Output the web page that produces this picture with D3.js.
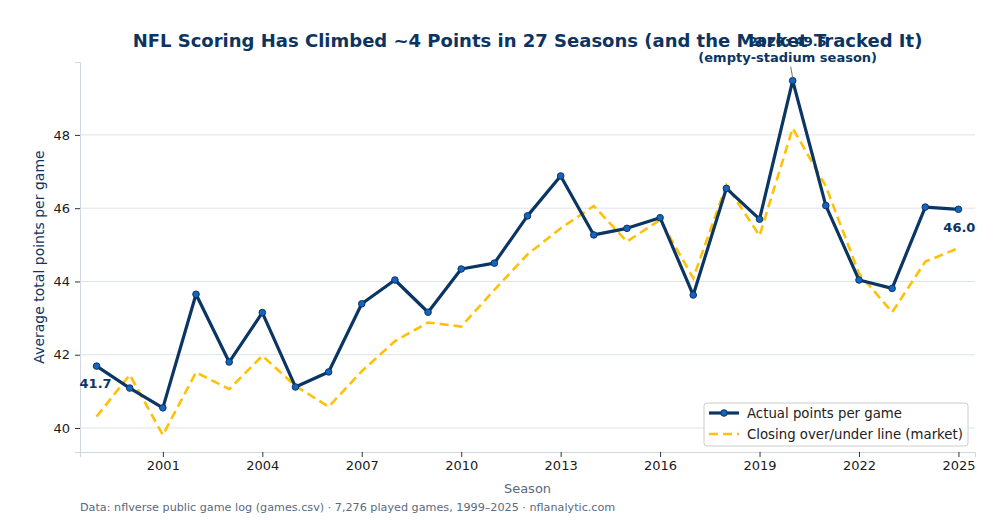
<!doctype html>
<html lang="en">
<head>
<meta charset="utf-8">
<script src="https://d3js.org/d3.v7.min.js"></script>
<style>
  body { margin: 0; background: #fff; }
  svg { display: block; font-family: "DejaVu Sans", sans-serif; }
</style>
<title>NFL scoring</title>
</head>
<body>
<script>
// seasons and values
var seasons = d3.range(1999, 2026);
var actualPts = [41.69, 41.09, 40.55, 43.65, 41.80, 43.15, 41.12, 41.53, 43.39, 44.04,
                 43.16, 44.34, 44.50, 45.79, 46.88, 45.27, 45.45, 45.74, 43.63, 46.54,
                 45.70, 49.48, 46.07, 44.04, 43.81, 46.03, 45.97];
var closingLine = [40.31, 41.45, 39.81, 41.52, 41.06, 41.97, 41.15, 40.58, 41.55, 42.37,
                   42.88, 42.77, 43.77, 44.74, 45.45, 46.06, 45.09, 45.68, 44.09, 46.63,
                   45.25, 48.18, 46.60, 44.22, 43.16, 44.54, 44.91];
var xTicks = [2001, 2004, 2007, 2010, 2013, 2016, 2019, 2022, 2025];
var yTicks = [40, 42, 44, 46, 48];

var W = 1000, H = 520;
var margin = {top: 62, right: 25, bottom: 68, left: 80},
    width = W - margin.left - margin.right,
    height = H - margin.top - margin.bottom;

var navy = "#0b3563", blue = "#1565c0", gold = "#ffc107";

var svg = d3.select("body").append("svg")
    .attr("width", W).attr("height", H);

var g = svg.append("g")
    .attr("transform", "translate(" + margin.left + "," + margin.top + ")");

var x = d3.scaleLinear().domain([1998.5, 2025.5]).range([0, width]);
var y = d3.scaleLinear().domain([39.345, 49.99]).range([height, 0]);

// grid
g.append("g").selectAll("line").data(yTicks).enter().append("line")
    .attr("x1", 0).attr("x2", width)
    .attr("y1", function(d) { return y(d); })
    .attr("y2", function(d) { return y(d); })
    .attr("stroke", "#dde3ec").attr("stroke-width", 1);

// axes
var xAxis = g.append("g")
    .attr("transform", "translate(0," + height + ")")
    .call(d3.axisBottom(x).tickValues(xTicks).tickFormat(d3.format("d")).tickSize(5).tickPadding(4));
var yAxis = g.append("g")
    .call(d3.axisLeft(y).tickValues(yTicks).tickSize(5).tickPadding(5));

[xAxis, yAxis].forEach(function(a) {
    a.select(".domain").attr("stroke", "#cfd7e3");
    a.selectAll(".tick line").attr("stroke", "#333");
    a.selectAll("text").attr("font-size", 13).attr("fill", "#1a1a1a")
        .attr("font-family", "DejaVu Sans");
});

// series
var lineFn = function(vals) {
    return d3.line()
        .x(function(d, i) { return x(seasons[i]); })
        .y(function(d) { return y(d); })(vals);
};

g.append("path")
    .attr("d", lineFn(closingLine))
    .attr("fill", "none").attr("stroke", gold)
    .attr("stroke-width", 2.6).attr("stroke-dasharray", "9,5");

g.append("path")
    .attr("d", lineFn(actualPts))
    .attr("fill", "none").attr("stroke", navy)
    .attr("stroke-width", 3.2).attr("stroke-linejoin", "round");

g.selectAll(".pt").data(actualPts).enter().append("circle")
    .attr("class", "pt")
    .attr("cx", function(d, i) { return x(seasons[i]); })
    .attr("cy", function(d) { return y(d); })
    .attr("r", 3.3)
    .attr("fill", blue).attr("stroke", navy).attr("stroke-width", 1);

// end labels
g.append("text")
    .attr("x", x(1999) - 17).attr("y", y(actualPts[0]) + 22)
    .attr("font-size", 13).attr("font-weight", "bold").attr("fill", navy)
    .text("41.7");
g.append("text")
    .attr("x", x(2025) + 17).attr("y", y(actualPts[26]) + 23)
    .attr("text-anchor", "end")
    .attr("font-size", 13).attr("font-weight", "bold").attr("fill", navy)
    .text("46.0");

// 2020 annotation (overlaps the title in the original too)
var ax = x(2020), ay = y(actualPts[21]);
g.append("line")
    .attr("x1", ax - 2).attr("y1", ay - 14).attr("x2", ax).attr("y2", ay - 3)
    .attr("stroke", "#777").attr("stroke-width", 1);

// title
svg.append("text")
    .attr("x", margin.left + width / 2).attr("y", 47)
    .attr("text-anchor", "middle")
    .attr("font-size", 18).attr("font-weight", "bold").attr("fill", "#0d3461")
    .text("NFL Scoring Has Climbed ~4 Points in 27 Seasons (and the Market Tracked It)");

g.append("text")
    .attr("x", ax - 5).attr("y", ay - 35)
    .attr("text-anchor", "middle")
    .attr("font-size", 13).attr("font-weight", "bold").attr("fill", navy)
    .text("2020: 49.5");
g.append("text")
    .attr("x", ax - 5).attr("y", ay - 19)
    .attr("text-anchor", "middle")
    .attr("font-size", 13).attr("font-weight", "bold").attr("fill", navy)
    .text("(empty-stadium season)");

// axis labels
svg.append("text")
    .attr("transform", "translate(44," + (margin.top + height / 2) + ") rotate(-90)")
    .attr("text-anchor", "middle")
    .attr("font-size", 14).attr("fill", navy)
    .text("Average total points per game");
svg.append("text")
    .attr("x", margin.left + width / 2).attr("y", 493)
    .attr("text-anchor", "middle")
    .attr("font-size", 13).attr("fill", "#5a6a80")
    .text("Season");

// footer
svg.append("text")
    .attr("x", 80).attr("y", 511)
    .attr("font-size", 11.2).attr("fill", "#5a6a80")
    .text("Data: nflverse public game log (games.csv) \u00b7 7,276 played games, 1999\u20132025 \u00b7 nflanalytic.com");

// legend
var lg = svg.append("g").attr("transform", "translate(704,403)");
lg.append("rect")
    .attr("width", 264).attr("height", 43).attr("rx", 3)
    .attr("fill", "#fff").attr("fill-opacity", 0.85)
    .attr("stroke", "#cccccc");
lg.append("line").attr("x1", 5).attr("x2", 35).attr("y1", 10).attr("y2", 10)
    .attr("stroke", navy).attr("stroke-width", 3.2);
lg.append("circle").attr("cx", 20).attr("cy", 10).attr("r", 3.3)
    .attr("fill", blue).attr("stroke", navy);
lg.append("line").attr("x1", 5).attr("x2", 35).attr("y1", 31).attr("y2", 31)
    .attr("stroke", gold).attr("stroke-width", 2.6).attr("stroke-dasharray", "9,5");
lg.append("text").attr("x", 43).attr("y", 15)
    .attr("font-size", 13.3).attr("fill", "#222").text("Actual points per game");
lg.append("text").attr("x", 43).attr("y", 36)
    .attr("font-size", 13.3).attr("fill", "#222").text("Closing over/under line (market)");
</script>
</body>
</html>
